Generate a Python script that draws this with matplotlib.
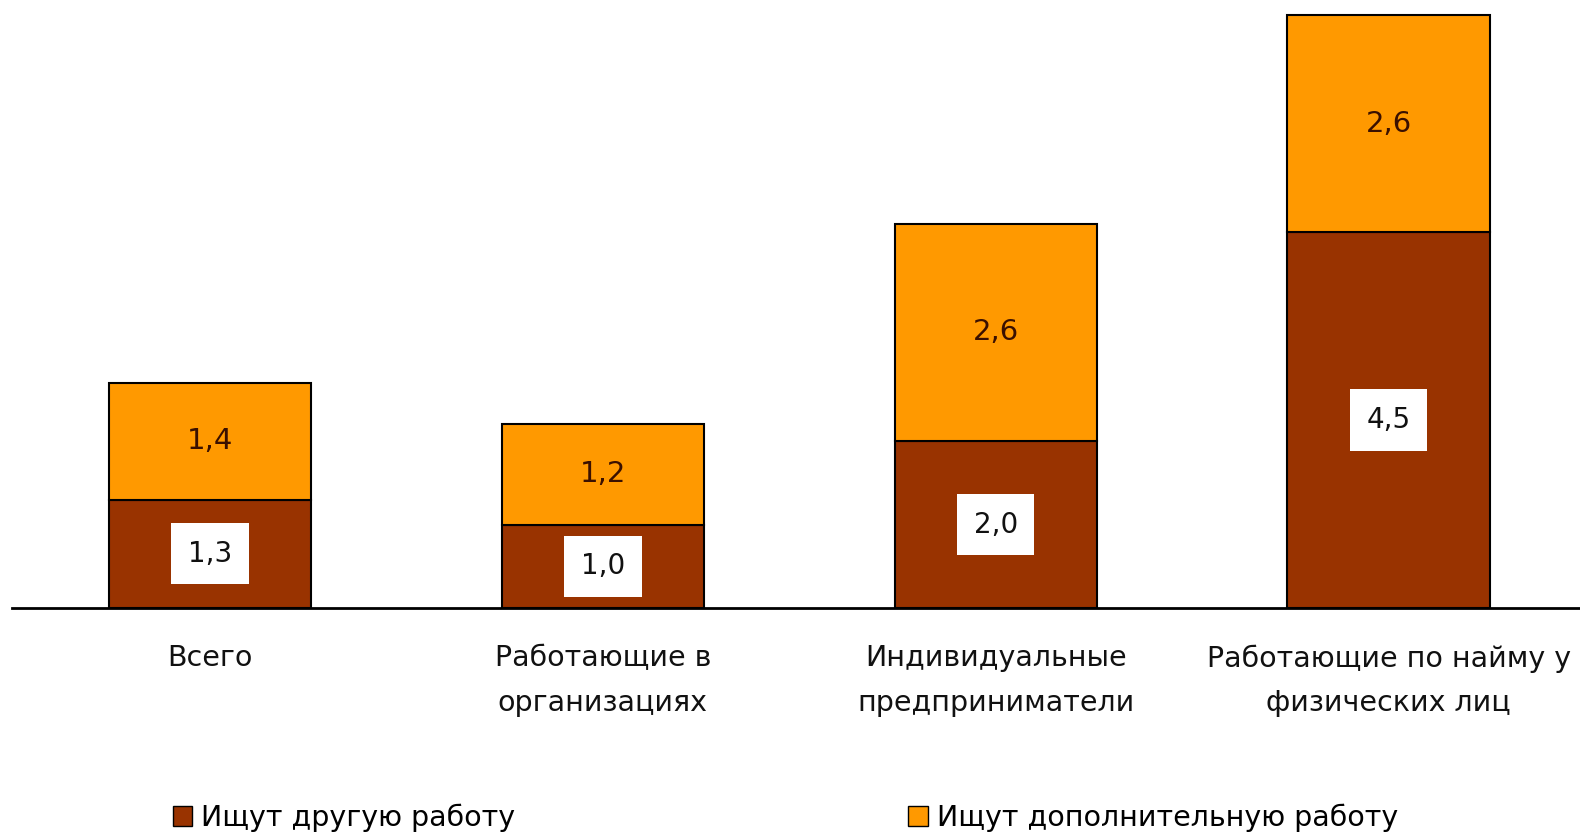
import numpy as np
import matplotlib.pyplot as plt
from matplotlib.patches import Patch

categories = ['Всего', 'Работающие в\nорганизациях', 'Индивидуальные\nпредприниматели',
              'Работающие по найму у\nфизических лиц']
other_job = [1.3, 1.0, 2.0, 4.5]       # Ищут другую работу
extra_job = [1.4, 1.2, 2.6, 2.6]       # Ищут дополнительную работу
series_names = ['Ищут другую работу', 'Ищут дополнительную работу']

col_dark = '#993300'
col_orange = '#FF9900'

plt.rcParams['font.family'] = ['DejaVu Sans']

fig = plt.figure(figsize=(15.8, 8.33), dpi=100)
ax = fig.add_axes([0.0077, 0.270, 0.9923, 0.730])

x = np.arange(len(categories))
w = 0.515
ax.bar(x, other_job, w, color=col_dark, edgecolor='black', linewidth=1.5)
ax.bar(x, extra_job, w, bottom=other_job, color=col_orange, edgecolor='black', linewidth=1.5)

fmt = lambda v: ('%.1f' % v).replace('.', ',')
for xi, v in zip(x, other_job):
    ax.text(xi, v / 2, fmt(v), ha='center', va='center', fontsize=20, color='#111111',
            bbox=dict(boxstyle='square,pad=0.6', facecolor='white', edgecolor='none'))
for xi, v0, v in zip(x, other_job, extra_job):
    ax.text(xi, v0 + v / 2, fmt(v), ha='center', va='center', fontsize=21, color='#3a1000')

ax.set_xlim(-0.503, 3.487)
ax.set_ylim(0, 7.28)
ax.set_xticks(x)
ax.set_xticklabels(categories, fontsize=20.5, color='#111111', linespacing=1.75)
ax.tick_params(axis='x', length=0, pad=26)
ax.set_yticks([])
for s in ['top', 'left', 'right']:
    ax.spines[s].set_visible(False)
ax.spines['bottom'].set_linewidth(2)

handles = [Patch(facecolor=col_dark, edgecolor='black'), Patch(facecolor=col_orange, edgecolor='black')]
fig.legend(handles, series_names, loc='lower left', bbox_to_anchor=(0.093, -0.03), ncol=2,
           frameon=False, fontsize=20.5, handlelength=0.7, handleheight=0.7, handletextpad=0.3,
           columnspacing=13.8)

fig.savefig('out.png', dpi=100)
